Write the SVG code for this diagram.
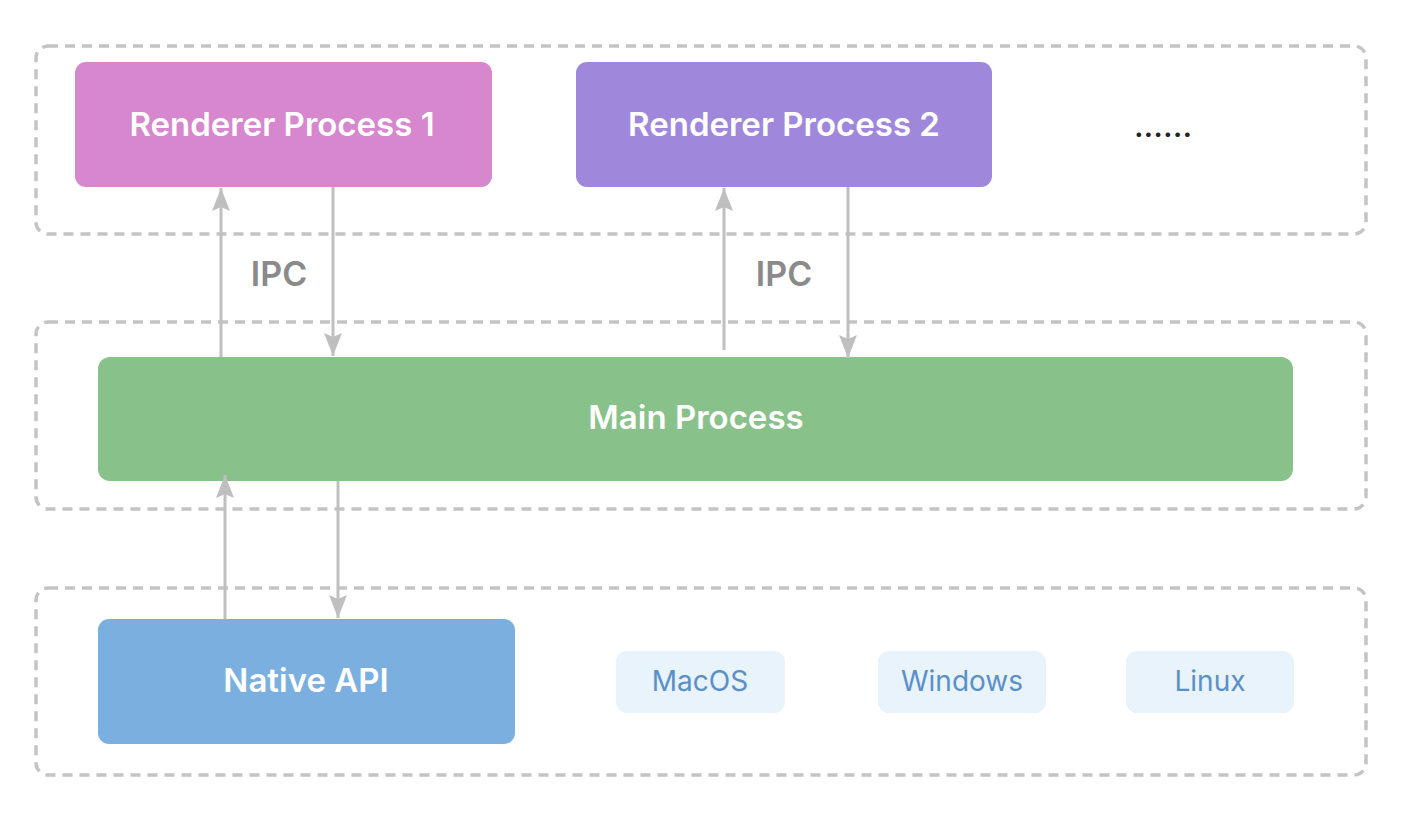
<svg xmlns="http://www.w3.org/2000/svg" width="1418" height="814" viewBox="0 0 1418 814">
<style>
.group{fill:none;stroke:#c4c4c4;stroke-width:3.5;stroke-dasharray:10 7}
.title{font-family:Inter,"Liberation Sans",sans-serif;font-weight:600;font-size:33px;fill:#ffffff;text-anchor:middle}
.ipc{font-family:Inter,"Liberation Sans",sans-serif;font-weight:600;font-size:34px;fill:#8a8a8a;text-anchor:middle}
.os{font-family:Inter,"Liberation Sans",sans-serif;font-weight:400;font-size:28px;fill:#5b8fc7;text-anchor:middle}
.osbox{fill:#e8f3fb}
.conn{stroke:#bfbfbf;stroke-width:3;fill:none;marker-end:url(#arrow)}
</style>
<defs>
<marker id="arrow" markerUnits="userSpaceOnUse" viewBox="0 0 23 18" markerWidth="23" markerHeight="18" refX="23" refY="9" orient="auto">
<path d="M0,0 L23,9 L0,18 L4,9 Z" fill="#bfbfbf"/>
</marker>
</defs>
<rect width="1418" height="814" fill="#ffffff"/>
<g id="containers">
<rect class="group" x="36" y="46" width="1330" height="188" rx="12"/>
<rect class="group" x="36" y="322" width="1330" height="187" rx="12"/>
<rect class="group" x="36" y="588" width="1330" height="187" rx="12"/>
</g>
<g id="renderer1">
<rect x="75" y="62" width="417" height="125" rx="11" fill="#d687cd"/>
<text class="title" x="282" y="136">Renderer Process 1</text>
</g>
<g id="renderer2">
<rect x="576" y="62" width="416" height="125" rx="11" fill="#9f88db"/>
<text class="title" x="784" y="136">Renderer Process 2</text>
</g>
<g id="more">
<text x="1163" y="137" font-family="Inter,'Liberation Sans',sans-serif" font-size="32" font-weight="500" fill="#222222" text-anchor="middle">......</text>
</g>
<g id="main">
<rect x="98" y="357" width="1195" height="124" rx="12" fill="#88c18a"/>
<text class="title" x="696" y="429">Main Process</text>
</g>
<g id="native">
<rect x="98" y="619" width="417" height="125" rx="11" fill="#7bafe0"/>
<text class="title" x="306" y="692">Native API</text>
</g>
<g id="macos">
<rect class="osbox" x="616" y="651" width="169" height="62" rx="11"/>
<text class="os" x="700" y="691">MacOS</text>
</g>
<g id="windows">
<rect class="osbox" x="878" y="651" width="168" height="62" rx="11"/>
<text class="os" x="962" y="691">Windows</text>
</g>
<g id="linux">
<rect class="osbox" x="1126" y="651" width="168" height="62" rx="11"/>
<text class="os" x="1210" y="691">Linux</text>
</g>
<g id="connectors">
<line class="conn" x1="221" y1="357" x2="221" y2="188"/>
<line class="conn" x1="333" y1="187" x2="333" y2="356"/>
<line class="conn" x1="724" y1="350" x2="724" y2="188"/>
<line class="conn" x1="848" y1="187" x2="848" y2="358"/>
<line class="conn" x1="225" y1="619" x2="225" y2="475"/>
<line class="conn" x1="338" y1="481" x2="338" y2="618"/>
</g>
<g id="labels">
<text class="ipc" x="279" y="286">IPC</text>
<text class="ipc" x="784" y="286">IPC</text>
</g>
</svg>
